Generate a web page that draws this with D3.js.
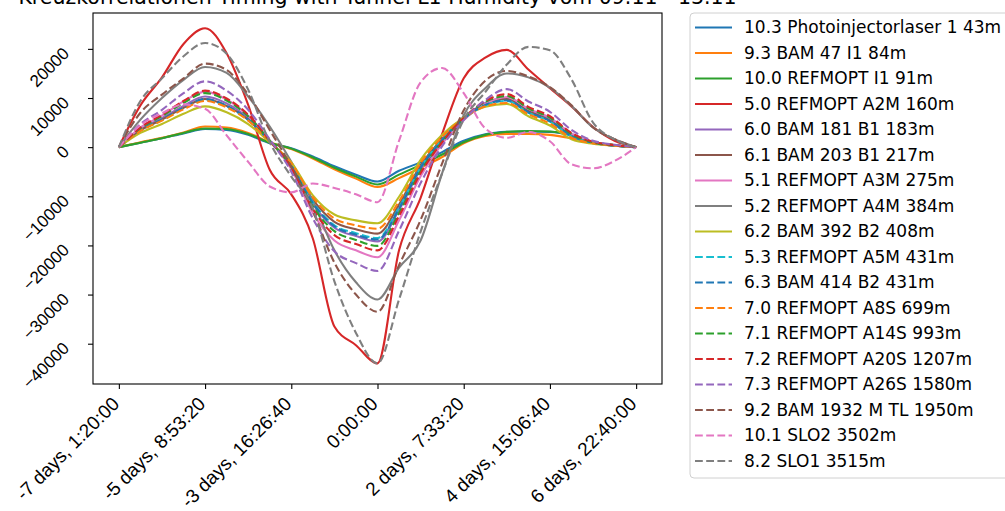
<!DOCTYPE html>
<html>
<head>
<meta charset="utf-8">
<script src="https://cdnjs.cloudflare.com/ajax/libs/d3/7.8.5/d3.min.js"></script>
<style>
  body { margin: 0; background: #fff; }
  svg { font-family: "DejaVu Sans", sans-serif; }
</style>
</head>
<body>
<div id="chart"></div>
<script>
// lag axis in seconds (python timedelta on the x axis)
const lags = [-600000, -550000, -500000, -450000, -400000, -350000, -300000, -250000, -200000,
    -150000, -100000, -50000, 0, 50000, 100000, 150000, 200000, 250000, 300000, 350000,
    400000, 450000, 500000, 550000, 600000]

const xTicks = [-600000, -400000, -200000, 0, 200000, 400000, 600000]
const xTickLabels = ['-7 days, 1:20:00', '-5 days, 8:53:20', '-3 days, 16:26:40', '0:00:00',
    '2 days, 7:33:20', '4 days, 15:06:40', '6 days, 22:40:00']
const yTicks = [-40000, -30000, -20000, -10000, 0, 10000, 20000]

const names = ['10.3 Photoinjectorlaser 1 43m', '9.3 BAM 47 I1 84m', '10.0 REFMOPT I1 91m',
    '5.0 REFMOPT A2M 160m', '6.0 BAM 181 B1 183m', '6.1 BAM 203 B1 217m', '5.1 REFMOPT A3M 275m',
    '5.2 REFMOPT A4M 384m', '6.2 BAM 392 B2 408m', '5.3 REFMOPT A5M 431m', '6.3 BAM 414 B2 431m',
    '7.0 REFMOPT A8S 699m', '7.1 REFMOPT A14S 993m', '7.2 REFMOPT A20S 1207m',
    '7.3 REFMOPT A26S 1580m', '9.2 BAM 1932 M TL 1950m', '10.1 SLO2 3502m', '8.2 SLO1 3515m']

// cross correlation values, one array per station
const photo43   = [0, 900, 1800, 2800, 3700, 3500, 2500, 800, -200, -1900, -3900, -5600, -7000, -4800, -3100, -1000, 1300, 2600, 3100, 3200, 3100, 2400, 1000, 400, 0]
const bam47     = [0, 1000, 1900, 3000, 4200, 4000, 2900, 1000, -400, -2300, -4500, -6400, -8100, -6300, -4200, -2000, 800, 2300, 2700, 2700, 2500, 1800, 800, 300, 0]
const refI1     = [0, 900, 1800, 2900, 3800, 3700, 2700, 900, -300, -2100, -4200, -6000, -7600, -5600, -3600, -1500, 1000, 2500, 3100, 3300, 3200, 2500, 1000, 400, 0]
const refA2M    = [0, 8500, 14200, 21000, 24200, 19100, 8600, -4600, -9600, -18600, -36500, -40300, -44000, -21000, -10300, 2700, 14000, 18200, 19800, 15800, 12000, 8300, 4100, 1300, 0]
const bam181    = [0, 3600, 5900, 8400, 10300, 8900, 5900, 1200, -3800, -11600, -16400, -18100, -19200, -12800, -4500, 1200, 5900, 9000, 10000, 7500, 5700, 2500, 1000, 400, 0]
const bam203    = [0, 3400, 5600, 8000, 9800, 8400, 5600, 1200, -3500, -10700, -15200, -16700, -17600, -11700, -3700, 1700, 6000, 8800, 9800, 7300, 5400, 2300, 900, 300, 0]
const refA3M    = [0, 4000, 6400, 9300, 11300, 9700, 6400, 1400, -4500, -13400, -19000, -21000, -22400, -14900, -5900, 700, 5500, 8800, 10200, 7800, 6000, 2800, 1100, 400, 0]
const refA4M    = [0, 5600, 10000, 13700, 16300, 15100, 10300, 4200, -3000, -11000, -21000, -27500, -31000, -24500, -19000, -5300, 6500, 12000, 15000, 14200, 12100, 8400, 4000, 1600, 0]
const bam392    = [0, 2900, 4700, 6800, 8300, 7100, 4700, 1000, -3100, -9800, -13700, -14900, -15500, -10100, -2600, 2500, 6000, 8200, 8800, 6300, 4400, 1600, 700, 300, 0]
const refA5M    = [0, 3400, 5500, 7900, 9600, 8300, 5500, 1200, -3700, -11200, -15900, -17500, -18500, -12300, -4100, 1500, 5800, 8500, 9400, 7000, 5200, 2200, 900, 300, 0]
const bam414    = [0, 3400, 5600, 8000, 9800, 8400, 5600, 1200, -3800, -11400, -16100, -17800, -18800, -12500, -4200, 1400, 5800, 8600, 9500, 7100, 5300, 2300, 900, 300, 0]
const refA8S    = [0, 3300, 5400, 7700, 9400, 8100, 5400, 1100, -3300, -10200, -14500, -15900, -16600, -11000, -3200, 2100, 5900, 8300, 9000, 6700, 4800, 1900, 800, 300, 0]
const refA14S   = [0, 3900, 6300, 9000, 11000, 9500, 6300, 1300, -4000, -12100, -17100, -18900, -20100, -13400, -4900, 1100, 5900, 9200, 10400, 7900, 6000, 2700, 1000, 400, 0]
const refA20S   = [0, 4000, 6600, 9400, 11500, 9900, 6600, 1400, -4200, -12600, -17900, -19700, -21000, -14000, -5300, 1000, 5900, 9400, 10800, 8200, 6300, 2900, 1100, 400, 0]
const refA26S   = [0, 4700, 7600, 11000, 13400, 11500, 7600, 1600, -5000, -14500, -21200, -23600, -25200, -17000, -7300, 200, 5500, 9600, 11800, 9300, 7200, 3500, 1300, 500, 0]
const bam1932   = [0, 7000, 10700, 14000, 17000, 15700, 10700, 3500, -4000, -13000, -23500, -30000, -33500, -24000, -14800, -3300, 7500, 13500, 15500, 14400, 12200, 8500, 4000, 1600, 0]
const slo2      = [0, 4500, 6900, 8700, 7800, 2400, -3000, -8000, -9200, -7400, -8300, -9600, -11200, 1300, 13200, 16100, 11000, 3800, 1900, 3100, 1200, -3500, -4300, -2800, 0]
const slo1      = [0, 9400, 14000, 18500, 21200, 19000, 11700, 1000, -6000, -12500, -27300, -37800, -44000, -31000, -17200, -5300, 5600, 11200, 16800, 20400, 19700, 13800, 5000, 1600, 0]

const allValues = [photo43, bam47, refI1, refA2M, bam181, bam203, refA3M, refA4M, bam392,
    refA5M, bam414, refA8S, refA14S, refA20S, refA26S, bam1932, slo2, slo1]

const colors = ['#1f77b4', '#ff7f0e', '#2ca02c', '#d62728', '#9467bd', '#8c564b', '#e377c2', '#7f7f7f', '#bcbd22',
    '#17becf', '#1f77b4', '#ff7f0e', '#2ca02c', '#d62728', '#9467bd', '#8c564b', '#e377c2', '#7f7f7f']
const dashed = [false, false, false, false, false, false, false, false, false,
    true, true, true, true, true, true, true, true, true]

const W = 1005, H = 511
const margin = {top: 13, right: 343, bottom: 127, left: 93},
    width = W - margin.left - margin.right,
    height = H - margin.top - margin.bottom
const lw = 2.1, dash = '7.8,3.4'

var svg = d3.select('#chart').append('svg')
    .attr('width', W)
    .attr('height', H)

var g = svg.append('g')
    .attr('transform', 'translate(' + margin.left + ',' + margin.top + ')')

var x = d3.scaleLinear()
    .domain([-660000, 660000])
    .range([0, width])

var y = d3.scaleLinear()
    .domain([-48200, 27300])
    .range([height, 0])

var line = d3.line()
    .x((d, i) => x(lags[i]))
    .y(d => y(d))
    .curve(d3.curveMonotoneX)

allValues.forEach(function(vals, k) {
    g.append('path')
        .datum(vals)
        .attr('d', line)
        .attr('fill', 'none')
        .attr('stroke', colors[k])
        .attr('stroke-width', lw)
        .attr('stroke-dasharray', dashed[k] ? dash : null)
})

// axes
var xAxis = d3.axisBottom(x)
    .tickValues(xTicks)
    .tickFormat((d, i) => xTickLabels[i])
    .tickSize(5)

var yAxis = d3.axisLeft(y)
    .tickValues(yTicks)
    .tickFormat(d => d < 0 ? '\u2212' + Math.abs(d) : String(d))
    .tickSize(5)

var gx = g.append('g')
    .attr('transform', 'translate(0,' + height + ')')
    .call(xAxis)
gx.select('.domain').remove()
gx.selectAll('line').attr('stroke-width', 1.1)
gx.selectAll('text')
    .attr('font-size', 19)
    .attr('fill', '#000')
    .attr('text-anchor', 'end')
    .attr('x', 0).attr('y', 0).attr('dy', 0)
    .attr('transform', 'translate(1,21) rotate(-45)')

var gy = g.append('g').call(yAxis)
gy.select('.domain').remove()
gy.selectAll('line').attr('stroke-width', 1.1)
gy.selectAll('text')
    .attr('font-size', 17)
    .attr('fill', '#000')
    .attr('text-anchor', 'end')
    .attr('x', 0).attr('y', 0)
    .attr('dy', '0.35em')
    .attr('transform', 'translate(-27,1) rotate(-45)')

g.append('rect')
    .attr('width', width)
    .attr('height', height)
    .attr('fill', 'none')
    .attr('stroke', '#000')
    .attr('stroke-width', 1.1)

// title, cut off at the top like the original
svg.append('text')
    .attr('x', margin.left + width / 2)
    .attr('y', 4)
    .attr('text-anchor', 'middle')
    .attr('font-size', 20.5)
    .text('Kreuzkorrelationen Timing with Tunnel L1 Humidity vom 09.11 - 13.11')

// legend
var lg = svg.append('g').attr('transform', 'translate(690,13)')
lg.append('rect')
    .attr('width', 330)
    .attr('height', 465)
    .attr('rx', 4)
    .attr('fill', '#fff')
    .attr('stroke', '#d0d0d0')

names.forEach(function(name, k) {
    var yy = 14.5 + k * 25.5
    lg.append('line')
        .attr('x1', 5).attr('x2', 42)
        .attr('y1', yy).attr('y2', yy)
        .attr('stroke', colors[k])
        .attr('stroke-width', lw)
        .attr('stroke-dasharray', dashed[k] ? dash : null)
    lg.append('text')
        .attr('x', 54)
        .attr('y', yy)
        .attr('dy', '0.35em')
        .attr('font-size', 17)
        .text(name)
})
</script>
</body>
</html>
